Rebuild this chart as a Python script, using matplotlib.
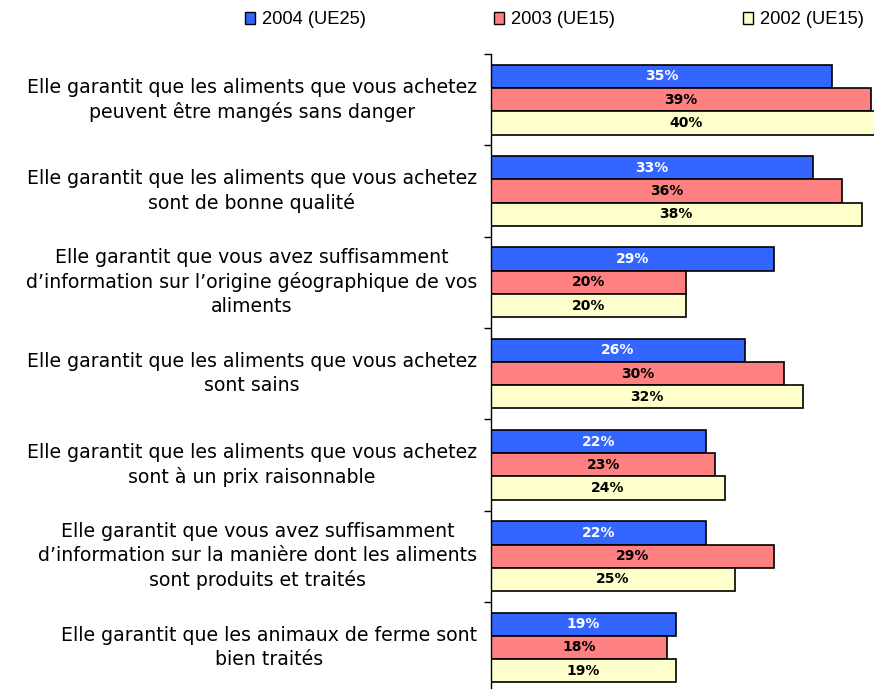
import matplotlib
matplotlib.use("Agg")
import matplotlib.pyplot as plt
from matplotlib.patches import Patch
import numpy as np

categories = [
    "Elle garantit que les aliments que vous achetez\npeuvent être mangés sans danger",
    "Elle garantit que les aliments que vous achetez\nsont de bonne qualité",
    "Elle garantit que vous avez suffisamment\nd’information sur l’origine géographique de vos\naliments",
    "Elle garantit que les aliments que vous achetez\nsont sains",
    "Elle garantit que les aliments que vous achetez\nsont à un prix raisonnable",
    "Elle garantit que vous avez suffisamment\nd’information sur la manière dont les aliments\nsont produits et traités",
    "Elle garantit que les animaux de ferme sont\nbien traités",
]
series_names = ["2004 (UE25)", "2003 (UE15)", "2002 (UE15)"]
v2004 = [35, 33, 29, 26, 22, 22, 19]
v2003 = [39, 36, 20, 30, 23, 29, 18]
v2002 = [40, 38, 20, 32, 24, 25, 19]

colors = ["#3366FF", "#FF8080", "#FFFFCC"]
label_colors = ["white", "black", "black"]

W, H = 874, 689
fig = plt.figure(figsize=(W / 100, H / 100), dpi=100)
group_px = 91.3
top_px = 54
ax_left = 491 / W
ax_top = 1 - top_px / H
ax_h = 7 * group_px / H
ax = fig.add_axes([ax_left, ax_top - ax_h, 1 - ax_left, ax_h])

y = np.arange(len(categories))
bh = 0.255
series = [v2004, v2003, v2002]
for i, (vals, c, lc, name) in enumerate(zip(series, colors, label_colors, series_names)):
    pos = y + (i - 1) * bh
    bars = ax.barh(pos, vals, height=bh, color=c, edgecolor="black", linewidth=1.2, label=name)
    for b, v in zip(bars, vals):
        ax.text(v / 2, b.get_y() + b.get_height() / 2, f"{v}%", ha="center", va="center",
                color=lc, fontsize=10, fontweight="bold", family="DejaVu Sans")

ax.set_xlim(0, (W - 491) / 9.75)
ax.set_ylim(len(categories) - 0.5, -0.5)
for s in ["top", "right", "bottom"]:
    ax.spines[s].set_visible(False)
ax.spines["left"].set_linewidth(1.0)
ax.set_xticks([])
ax.set_yticks(np.arange(len(categories) + 1) - 0.5)
ax.set_yticklabels([])
ax.tick_params(axis="y", direction="out", length=5, width=1)

for yi, cat in zip(y, categories):
    ax.annotate(cat, xy=(0, yi), xycoords=("axes fraction", "data"),
                xytext=(-14, 0), textcoords="offset pixels",
                ha="right", va="center", multialignment="center",
                fontsize=13.6, family="DejaVu Sans", linespacing=1.31, color="black")

handles = [Patch(facecolor=c, edgecolor="black", linewidth=1) for c in colors]
fig.legend(handles, series_names, loc="center left", bbox_to_anchor=(245 / W, 1 - 20 / H),
           ncol=3, frameon=False, handlelength=0.55, handleheight=0.55, handletextpad=0.4,
           columnspacing=6.95, prop={"family": "Liberation Sans", "size": 13.2},
           borderpad=0, borderaxespad=0)

fig.savefig("out.png", dpi=100)
